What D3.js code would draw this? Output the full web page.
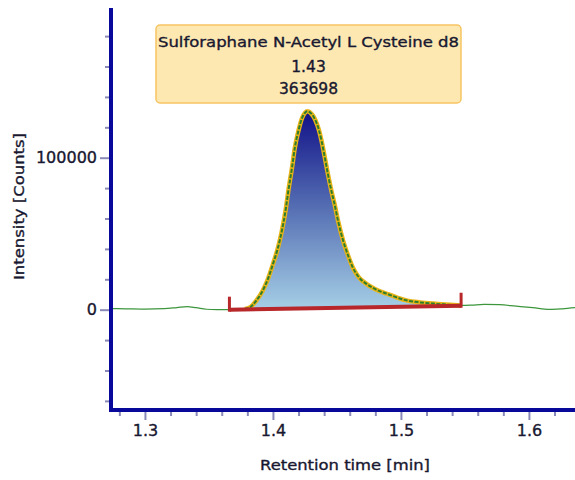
<!DOCTYPE html>
<html><head><meta charset="utf-8">
<script src="https://cdn.jsdelivr.net/npm/d3@7"></script>
<style>
html,body{margin:0;padding:0;background:#fff;}
svg{display:block;font-family:"DejaVu Sans",sans-serif;}
</style></head>
<body><svg id="c" width="575" height="480"></svg>
<script>
// ---- data ----
const times = [1.273,1.285,1.300,1.315,1.325,1.333,1.340,1.348,1.356,1.364,1.372,1.378,1.382,1.387,1.392,1.396,1.400,1.404,1.407,1.410,1.412,1.415,1.417,1.420,1.4227,1.425,1.427,1.430,1.433,1.436,1.438,1.441,1.443,1.446,1.448,1.451,1.455,1.459,1.4625,1.467,1.473,1.480,1.489,1.497,1.505,1.515,1.525,1.535,1.547,1.555,1.565,1.577,1.590,1.603,1.616,1.626,1.636];
const intensity = [700,600,400,700,1400,2000,1300,300,0,0,100,500,1500,6000,12500,20000,30000,41000,52000,66000,78000,94000,106000,118000,126000,129500,130500,129000,125000,118000,111000,98000,89000,77000,70000,58000,45000,35000,27600,21500,17000,13500,10500,8000,6000,4800,4000,3400,2800,3000,3500,3300,2300,1300,200,600,1300];
const peakBounds = [1.366, 1.547];        // integration start / end (min)
const baselineLevels = [0, 2600];          // baseline intensity at start / end
const peakLabel = ["Sulforaphane N-Acetyl L Cysteine d8", "1.43", "363698"];
const xMajorTicks = [1.3, 1.4, 1.5, 1.6];
const xMinorTicks = [1.28,1.32,1.34,1.36,1.38,1.42,1.44,1.46,1.48,1.52,1.54,1.56,1.58,1.62];
const yMajorTicks = [0, 100000];
const yMinorTicks = [-60000,-40000,-20000,20000,40000,60000,80000,120000,140000,160000,180000];
const xTitle = "Retention time [min]";
const yTitle = "Intensity [Counts]";

// ---- drawing ----
const svg = d3.select("#c");
const x = d3.scaleLinear().domain([1.2727, 1.636]).range([110, 575]);
const y = d3.scaleLinear().domain([-66000, 198500]).range([410, 8]);

const data = times.map((t, i) => ({t, v: intensity[i]}));
const base = d3.scaleLinear().domain(peakBounds).range(baselineLevels);
const txtCol = "#181830";
const bolden = sel => sel.attr("stroke", txtCol).attr("stroke-width", 0.35);

const defs = svg.append("defs");
const grad = defs.append("linearGradient").attr("id","pg")
  .attr("gradientUnits","userSpaceOnUse")
  .attr("x1",0).attr("x2",0).attr("y1",y(130000)).attr("y2",y(0));
grad.append("stop").attr("offset","0%").attr("stop-color","#121288");
grad.append("stop").attr("offset","45%").attr("stop-color","#5068b0");
grad.append("stop").attr("offset","100%").attr("stop-color","#a6d0e6");
defs.append("clipPath").attr("id","plot").append("rect")
  .attr("x",112).attr("y",0).attr("width",463).attr("height",408);

const g = svg.append("g").attr("clip-path","url(#plot)");

// full trace
const line = d3.line().x(d => x(d.t)).y(d => y(d.v)).curve(d3.curveMonotoneX);
g.append("path").datum(data).attr("d", line)
  .attr("fill","none").attr("stroke","#3c963c").attr("stroke-width",1.2);

// peak fill
const peakPts = data.filter(d => d.t >= peakBounds[0] && d.t <= peakBounds[1]);
const area = d3.area().x(d => x(d.t))
  .y0(d => y(base(d.t))).y1(d => y(Math.max(d.v, base(d.t))))
  .curve(d3.curveMonotoneX);
g.append("path").datum(peakPts).attr("d", area).attr("fill","url(#pg)");

// peak outline
const outlinePts = data.filter(d => d.t >= 1.376 && d.t <= peakBounds[1]);
g.append("path").datum(outlinePts).attr("d", line)
  .attr("fill","none").attr("stroke","#e8b418").attr("stroke-width",4.5)
  .attr("stroke-linejoin","round");
g.append("path").datum(outlinePts).attr("d", line)
  .attr("fill","none").attr("stroke","#2e7d2a").attr("stroke-width",2)
  .attr("stroke-dasharray","4,1.5");

// integration baseline
const red = "#b8282a";
svg.append("line")
  .attr("x1", x(peakBounds[0])).attr("y1", y(baselineLevels[0]))
  .attr("x2", x(peakBounds[1])).attr("y2", y(baselineLevels[1]))
  .attr("stroke", red).attr("stroke-width", 4);
peakBounds.forEach((t, i) => {
  svg.append("line")
    .attr("x1", x(t)).attr("x2", x(t))
    .attr("y1", y(baselineLevels[i]) + 2).attr("y2", y(baselineLevels[i]) - 13)
    .attr("stroke", red).attr("stroke-width", 3);
});

// axes
const tickCol = "#8a8ab8";
const ax = svg.append("g");
ax.append("g").attr("transform","translate(109,0)")
  .call(d3.axisLeft(y).tickValues(yMinorTicks).tickSize(4).tickFormat(""));
ax.append("g").attr("transform","translate(109,0)")
  .call(d3.axisLeft(y).tickValues(yMajorTicks).tickSize(9).tickPadding(3).tickFormat(d3.format("d")));
ax.append("g").attr("transform","translate(0,412)")
  .call(d3.axisBottom(x).tickValues(xMinorTicks).tickSize(4).tickFormat(""));
ax.append("g").attr("transform","translate(0,412)")
  .call(d3.axisBottom(x).tickValues(xMajorTicks).tickSize(8).tickPadding(5).tickFormat(d3.format(".1f")));
ax.selectAll(".domain").remove();
ax.selectAll(".tick line").attr("stroke", tickCol).attr("stroke-width", 2);
ax.selectAll(".tick text").attr("fill", txtCol).call(bolden)
  .style("font-family","'DejaVu Sans',sans-serif").style("font-size","16px");

// axis lines
const axCol = "#08089a";
svg.append("line").attr("x1",111).attr("x2",111).attr("y1",8).attr("y2",412)
  .attr("stroke",axCol).attr("stroke-width",4);
svg.append("line").attr("x1",109).attr("x2",575).attr("y1",410).attr("y2",410)
  .attr("stroke",axCol).attr("stroke-width",4);

// titles
svg.append("text").attr("x", 345).attr("y", 470).attr("text-anchor","middle")
  .attr("fill", txtCol).call(bolden).style("font-size","14.5px")
  .attr("textLength", 170).attr("lengthAdjust","spacingAndGlyphs").text(xTitle);
svg.append("text").attr("transform","translate(24,206.5) rotate(-90)")
  .attr("text-anchor","middle").attr("fill", txtCol).call(bolden).style("font-size","14px")
  .attr("textLength", 147).attr("lengthAdjust","spacingAndGlyphs").text(yTitle);

// peak label box
const apex = data.reduce((a, b) => b.v > a.v ? b : a);
const cx = x(apex.t) + 1;
const lab = svg.append("g");
lab.append("rect").attr("rx",4).attr("ry",4)
  .attr("x", cx - 152.5).attr("width", 305).attr("y", 25).attr("height", 78)
  .attr("fill","#fde8b2").attr("stroke","#f6c462").attr("stroke-width",1.5);
const lineYs = [47, 72, 94];
peakLabel.forEach((s, i) => {
  const t = lab.append("text").attr("x", cx).attr("y", lineYs[i])
    .attr("text-anchor","middle").attr("fill", txtCol).call(bolden)
    .style("font-size", i === 0 ? "14.5px" : "15.5px").text(s);
  if (i === 0) t.attr("textLength", 301).attr("lengthAdjust","spacingAndGlyphs");
});
</script></body></html>
